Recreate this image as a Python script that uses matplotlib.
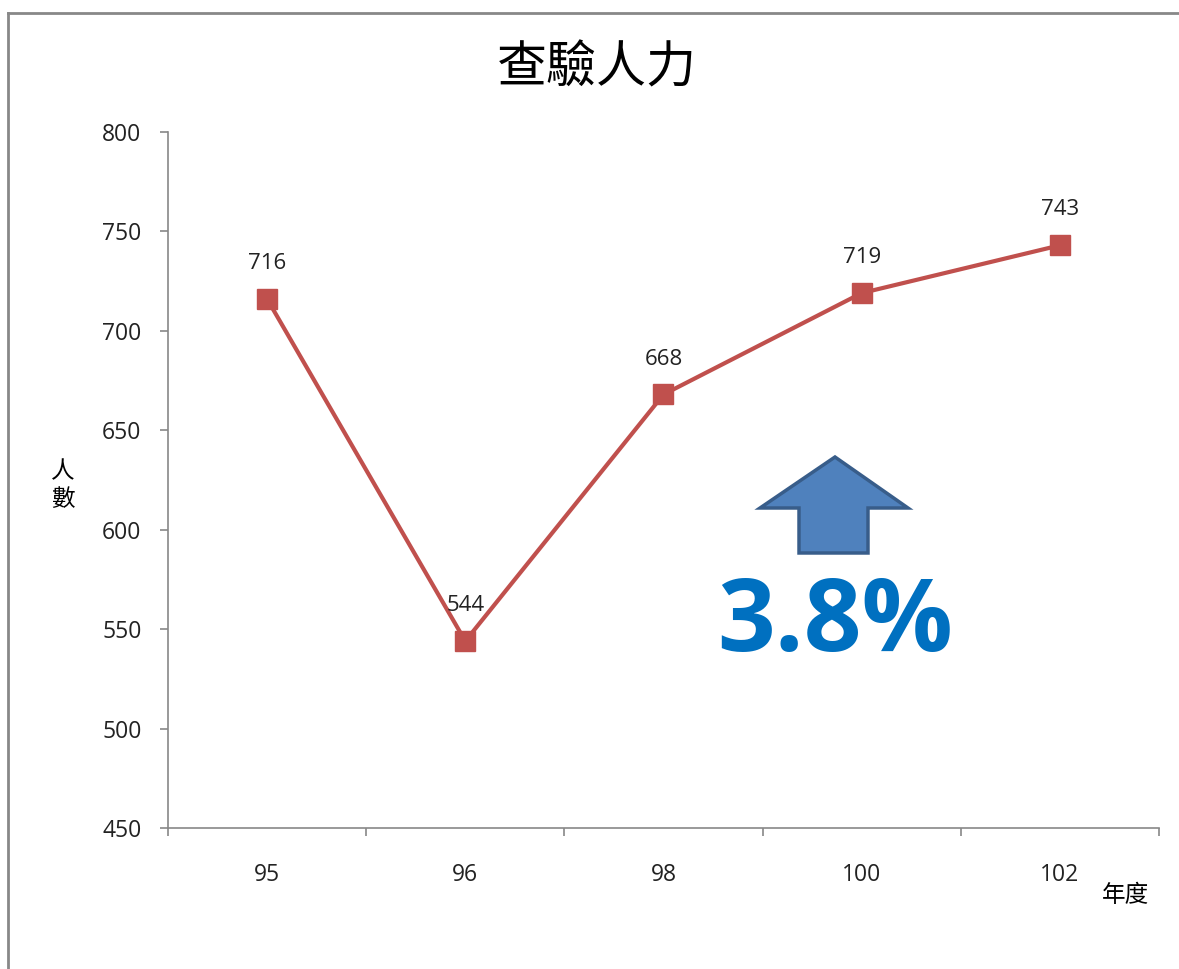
import matplotlib.pyplot as plt
from matplotlib.lines import Line2D
from matplotlib.patches import Polygon

years = ['95', '96', '98', '100', '102']
staff = [716, 544, 668, 719, 743]
y_ticks = [450, 500, 550, 600, 650, 700, 750, 800]

plt.rcParams['font.family'] = ['Open Sans', 'Noto Sans CJK TC', 'DejaVu Sans']
cjk = ['Noto Sans CJK TC', 'DejaVu Sans']

fig = plt.figure(figsize=(11.79, 9.69), dpi=100)
ax = fig.add_axes([0.1425, 0.1455, 0.8405, 0.7183])

x = list(range(len(years)))
ax.plot(x, staff, color='#C0504D', lw=3, marker='s', ms=14, mec='#C0504D', mfc='#C0504D')
for xi, v in zip(x, staff):
    ax.annotate(str(v), (xi, v), xytext=(0, 25.5), textcoords='offset points',
                ha='center', va='center', fontsize=16, color='#222222')

ax.set_xlim(-0.5, len(years) - 0.5)
ax.set_ylim(450, 800)
ax.set_yticks(y_ticks)
ax.set_xticks(x)
ax.set_xticklabels(years)
ax.set_xticks([i - 0.5 for i in range(len(years) + 1)], minor=True)
ax.tick_params(axis='x', which='major', length=0, pad=25, labelsize=16.5, labelcolor='#222222')
ax.tick_params(axis='x', which='minor', length=6, color='#888888', width=1.2, direction='out')
ax.tick_params(axis='y', length=6, color='#888888', width=1.2, pad=13, labelsize=16.5, labelcolor='#222222')
for s in ['top', 'right']:
    ax.spines[s].set_visible(False)
for s in ['left', 'bottom']:
    ax.spines[s].set_color('#888888')
    ax.spines[s].set_linewidth(1.2)

fig.text(0.506, 0.929, '查驗人力', ha='center', va='center', fontsize=36, family=cjk)
fig.text(0.053, 0.499, '人\n數', ha='center', va='center', fontsize=17, family=cjk, linespacing=1.25)
fig.text(0.955, 0.076, '年度', ha='center', va='center', fontsize=17, family=cjk)

# up arrow (figure pixel coordinates converted to fractions)
W, H = 1179, 969
arrow_px = [(835, 457), (908, 508), (868, 508), (868, 553), (799, 553), (799, 508), (760, 508)]
arrow = Polygon([(px / W, 1 - py / H) for px, py in arrow_px], closed=True,
                facecolor='#4F81BD', edgecolor='#385D8A', lw=2.5, transform=fig.transFigure)
fig.add_artist(arrow)
fig.text(835 / W, 1 - 624 / H, '3.8%', ha='center', va='center', fontsize=73,
         fontweight='bold', color='#0070C0', family=['Open Sans', 'DejaVu Sans'])

# outer frame
fig.add_artist(Line2D([8 / W, 8 / W], [0, 1 - 13 / H], color='#888888', lw=2, transform=fig.transFigure))
fig.add_artist(Line2D([8 / W, 1], [1 - 13 / H, 1 - 13 / H], color='#888888', lw=2, transform=fig.transFigure))

fig.savefig('out.png', dpi=100)
